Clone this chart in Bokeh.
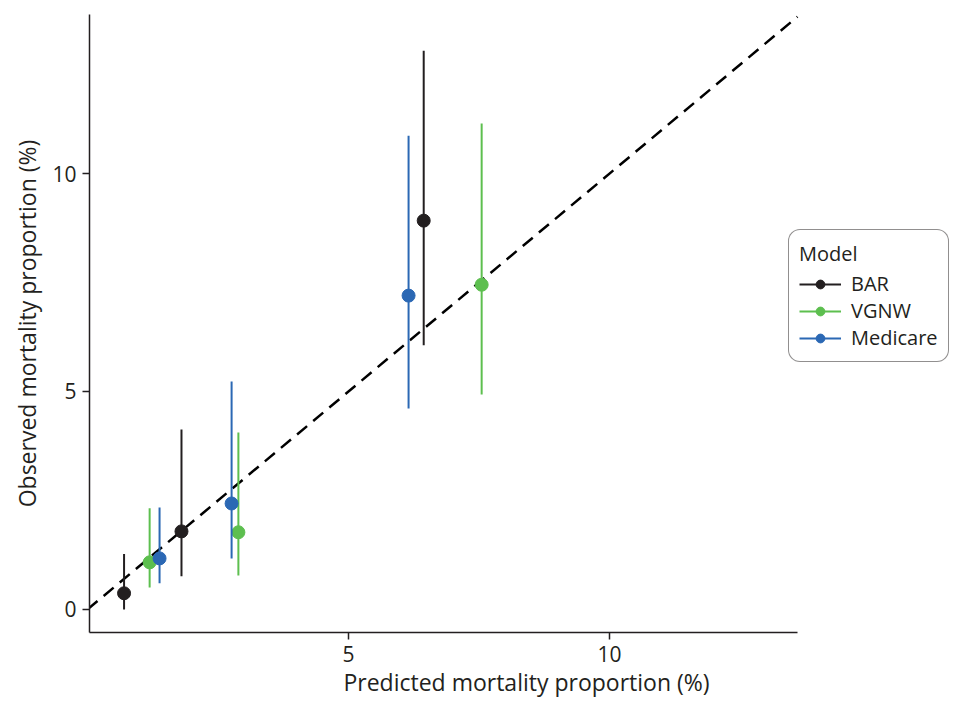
from bokeh.plotting import figure
from bokeh.models import Range1d, Legend, LegendItem, FixedTicker, ColumnDataSource
from bokeh.embed import file_html
from bokeh.resources import INLINE

# Data
models = ["BAR", "VGNW", "Medicare"]
colors = ["#231f20", "#5dbf4f", "#2b68b4"]
bar_pred = [0.70, 1.80, 6.44]
bar_obs = [0.37, 1.79, 8.92]
bar_lo = [0.0, 0.76, 6.06]
bar_hi = [1.27, 4.13, 12.82]
vgnw_pred = [1.19, 2.89, 7.55]
vgnw_obs = [1.08, 1.77, 7.45]
vgnw_lo = [0.50, 0.78, 4.93]
vgnw_hi = [2.32, 4.06, 11.15]
med_pred = [1.38, 2.76, 6.15]
med_obs = [1.17, 2.43, 7.20]
med_lo = [0.60, 1.17, 4.61]
med_hi = [2.34, 5.23, 10.87]
ref_x = [0.0, 13.6]
ref_y = [0.0, 13.6]
x_ticks = [5, 10]
y_ticks = [0, 5, 10]

FONT = "Open Sans"
TXT = "#231f20"

p = figure(width=965, height=704, output_backend="svg", toolbar_location=None,
           x_range=Range1d(0.038, 16.78), y_range=Range1d(-0.53, 13.65),
           min_border_left=89, min_border_top=14, min_border_bottom=72, min_border_right=2)
p.outline_line_color = None
p.grid.visible = False
p.background_fill_color = "white"

p.line(ref_x, ref_y, line_color="black", line_width=2.5, line_dash="13 8")

series = [(bar_pred, bar_obs, bar_lo, bar_hi), (vgnw_pred, vgnw_obs, vgnw_lo, vgnw_hi),
          (med_pred, med_obs, med_lo, med_hi)]
items = []
for name, col, (px, py, lo, hi) in zip(models, colors, series):
    src = ColumnDataSource(dict(x=px, y=py, lo=lo, hi=hi))
    seg = p.segment(x0="x", x1="x", y0="lo", y1="hi", source=src, line_color=col, line_width=2)
    sc = p.scatter(x="x", y="y", source=src, size=13, fill_color=col, line_color=col)
    items.append(LegendItem(label=name, renderers=[seg, sc]))

for ax in (p.xaxis, p.yaxis):
    ax.axis_line_color = TXT
    ax.axis_line_width = 1.5
    ax.major_tick_line_color = TXT
    ax.major_tick_line_width = 1.5
    ax.major_tick_out = 7
    ax.major_tick_in = 0
    ax.minor_tick_line_color = None
    ax.major_label_text_font = FONT
    ax.major_label_text_font_size = "21px"
    ax.major_label_text_color = TXT
    ax.axis_label_text_font = FONT
    ax.axis_label_text_font_size = "23px"
    ax.axis_label_text_font_style = "normal"
    ax.axis_label_text_color = TXT

p.xaxis.ticker = FixedTicker(ticks=x_ticks)
p.yaxis.ticker = FixedTicker(ticks=y_ticks)
p.xaxis.bounds = (0.038, 13.6)
p.xaxis.axis_label = "Predicted mortality proportion (%)"
p.yaxis.axis_label = "Observed mortality proportion (%)"
p.xaxis.major_label_standoff = 6
p.yaxis.major_label_standoff = 6
p.xaxis.axis_label_standoff = 1
p.yaxis.axis_label_standoff = 6

legend = Legend(items=items, location=(699, 270), title="Model")
legend.margin = 0
legend.padding = 10
legend.spacing = 0
legend.glyph_width = 42
legend.glyph_height = 22
legend.label_height = 22
legend.label_standoff = 10
legend.label_text_font = FONT
legend.label_text_font_size = "20px"
legend.label_text_color = TXT
legend.title_text_font = FONT
legend.title_text_font_size = "20px"
legend.title_text_font_style = "normal"
legend.title_text_color = TXT
legend.title_standoff = 3
legend.border_line_color = TXT
legend.border_line_width = 1.5
legend.background_fill_alpha = 1
if "border_radius" in Legend.properties():
    legend.border_radius = 12
p.add_layout(legend)

open("out.html", "w").write(file_html(p, INLINE))
